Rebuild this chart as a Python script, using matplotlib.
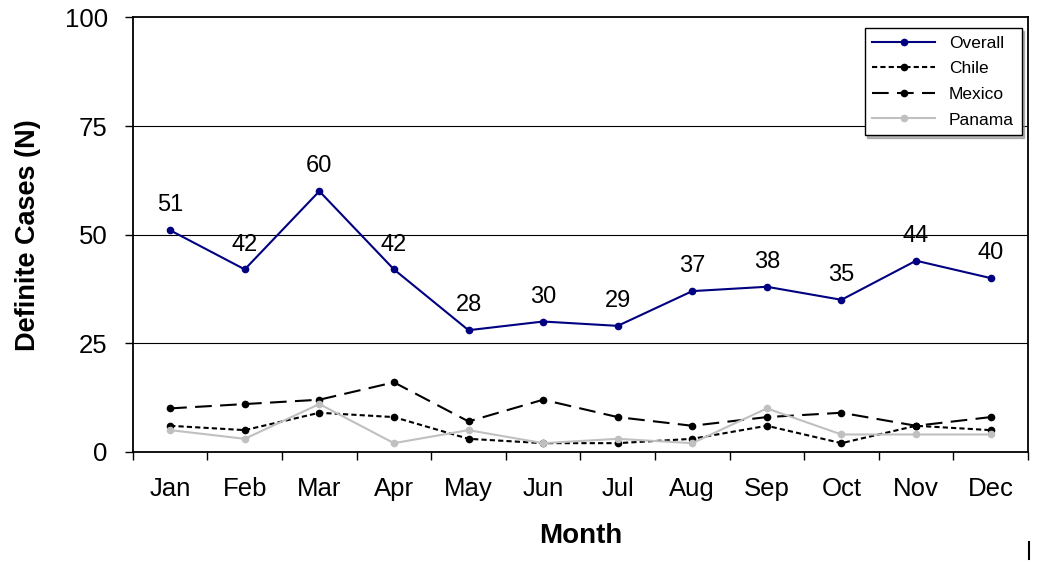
import numpy as np
import matplotlib.pyplot as plt
from matplotlib.lines import Line2D

months = ["Jan", "Feb", "Mar", "Apr", "May", "Jun",
          "Jul", "Aug", "Sep", "Oct", "Nov", "Dec"]
overall = [51, 42, 60, 42, 28, 30, 29, 37, 38, 35, 44, 40]
chile = [6, 5, 9, 8, 3, 2, 2, 3, 6, 2, 6, 5]
mexico = [10, 11, 12, 16, 7, 12, 8, 6, 8, 9, 6, 8]
panama = [5, 3, 11, 2, 5, 2, 3, 2, 10, 4, 4, 4]

plt.rcParams["font.family"] = ["Liberation Sans", "DejaVu Sans"]

fig = plt.figure(figsize=(10.63, 5.62), dpi=100)
ax = fig.add_axes([0.125, 0.196, 0.842, 0.773])

x_pos = np.arange(len(months))

ax.plot(x_pos, overall, color="#000080", lw=1.5, marker="o", ms=4.5, label="Overall")
ax.plot(x_pos, chile, color="black", lw=1.5, ls=(0, (2.5, 1.5)), marker="o", ms=4.5, label="Chile")
ax.plot(x_pos, mexico, color="black", lw=1.5, ls=(0, (8, 4)), marker="o", ms=4.5, label="Mexico")
ax.plot(x_pos, panama, color="#c0c0c0", lw=1.5, marker="o", ms=4.5, label="Panama")

# value labels above the overall line
for xi, v in zip(x_pos, overall):
    ax.annotate(str(v), (xi, v), xytext=(0, 10), textcoords="offset points",
                ha="center", va="bottom", fontsize=17)

ax.set_xlim(-0.5, 11.5)
ax.set_ylim(0, 100)
ax.set_yticks([0, 25, 50, 75, 100])
ax.tick_params(axis="y", labelsize=18.5, direction="out", length=6, width=1, pad=12)

# ticks between categories, labels centred on them
ax.set_xticks(np.arange(-0.5, 12, 1))
ax.set_xticklabels([])
ax.set_xticks(x_pos, minor=True)
ax.set_xticklabels(months, minor=True)
ax.tick_params(axis="x", which="major", direction="out", length=6, width=1)
ax.tick_params(axis="x", which="minor", length=0, labelsize=18.5, pad=18)

for yv in [25, 50, 75]:
    ax.axhline(yv, color="black", lw=0.8, zorder=0)

for sp in ax.spines.values():
    sp.set_linewidth(1.3)

ax.set_xlabel("Month", fontsize=20, fontweight="bold", labelpad=16)
ax.set_ylabel("Definite Cases (N)", fontsize=19.5, fontweight="bold", labelpad=17)

leg = ax.legend(loc="upper right", bbox_to_anchor=(0.993, 0.976), borderaxespad=0,
                fontsize=12.5, handlelength=3.6, labelspacing=0.6, fancybox=False,
                shadow={"color": "#888888", "alpha": 0.6}, framealpha=1, borderpad=0.45)
leg.get_frame().set_edgecolor("black")
leg.get_frame().set_linewidth(1.0)

# small stray mark at bottom right of the original
fig.add_artist(Line2D([1029 / 1063, 1029 / 1063], [0.005, 0.035], color="black", lw=1.5))

fig.savefig("out.png", dpi=100)
